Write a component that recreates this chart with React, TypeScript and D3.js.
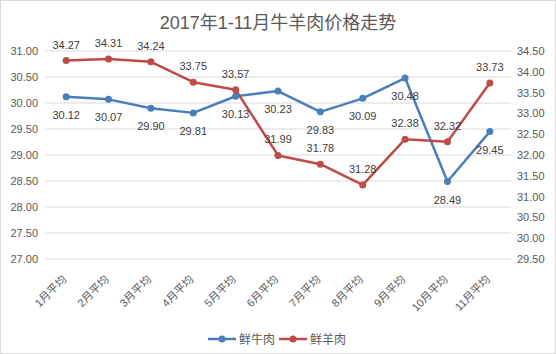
import * as d3 from "d3";

const months = ["1月平均", "2月平均", "3月平均", "4月平均", "5月平均", "6月平均", "7月平均", "8月平均", "9月平均", "10月平均", "11月平均"];
const beef = [30.12, 30.07, 29.9, 29.81, 30.13, 30.23, 29.83, 30.09, 30.48, 28.49, 29.45];
const mutton = [34.27, 34.31, 34.24, 33.75, 33.57, 31.99, 31.78, 31.28, 32.38, 32.32, 33.73];
const leftTicks = [27, 27.5, 28, 28.5, 29, 29.5, 30, 30.5, 31];
const rightTicks = [29.5, 30, 30.5, 31, 31.5, 32, 32.5, 33, 33.5, 34, 34.5];

const W = 556;
const H = 354;
const FONT = "'Liberation Sans', 'Noto Sans CJK SC', sans-serif";
const BLUE = "#4A7EBB";
const RED = "#BE4B48";

export default function App() {
  const margin = { top: 51, right: 45, bottom: 95, left: 45 };

  const x = d3.scaleBand<string>().domain(months).range([margin.left, W - margin.right]);
  const cx = (m: string) => (x(m) ?? 0) + x.bandwidth() / 2;
  const yL = d3.scaleLinear().domain([27, 31]).range([H - margin.bottom, margin.top]);
  const yR = d3.scaleLinear().domain([29.5, 34.5]).range([H - margin.bottom, margin.top]);

  const beefLine = d3.line<number>().x((_, i) => cx(months[i])).y((d) => yL(d));
  const muttonLine = d3.line<number>().x((_, i) => cx(months[i])).y((d) => yR(d));

  return (
    <svg width={W} height={H} style={{ position: "absolute", left: 0, top: 0, fontFamily: FONT }}>
      <rect x={0.5} y={0.5} width={W - 1} height={H - 1} fill="#fff" stroke="#D9D9D9" />
      <text x={W / 2} y={29} textAnchor="middle" fontSize={18} fill="#595959">
        2017年1-11月牛羊肉价格走势
      </text>

      {/* grid + left axis */}
      {leftTicks.map((t) => (
        <g key={"l" + t}>
          <line x1={margin.left} x2={W - margin.right} y1={yL(t)} y2={yL(t)} stroke="#D9D9D9" />
          <text x={38} y={yL(t) + 4} textAnchor="end" fontSize={11} fill="#595959">
            {t.toFixed(2)}
          </text>
        </g>
      ))}
      {rightTicks.map((t) => (
        <text key={"r" + t} x={517} y={yR(t) + 4} fontSize={11} fill="#595959">
          {t.toFixed(2)}
        </text>
      ))}

      {/* x labels */}
      {months.map((m) => (
        <text
          key={m}
          transform={`translate(${cx(m) + 1},${H - margin.bottom + 21}) rotate(-45)`}
          textAnchor="end"
          fontSize={11}
          fill="#595959"
        >
          {m}
        </text>
      ))}

      {/* series */}
      <path d={beefLine(beef) ?? ""} fill="none" stroke={BLUE} strokeWidth={2.5} strokeLinejoin="round" />
      <path d={muttonLine(mutton) ?? ""} fill="none" stroke={RED} strokeWidth={2.5} strokeLinejoin="round" />
      {beef.map((v, i) => (
        <g key={"b" + i}>
          <circle cx={cx(months[i])} cy={yL(v)} r={3.5} fill={BLUE} />
          <text x={cx(months[i])} y={yL(v) + 22} textAnchor="middle" fontSize={11} fill="#404040">
            {v.toFixed(2)}
          </text>
        </g>
      ))}
      {mutton.map((v, i) => (
        <g key={"m" + i}>
          <circle cx={cx(months[i])} cy={yR(v)} r={3.5} fill={RED} />
          <text x={cx(months[i])} y={yR(v) - 12} textAnchor="middle" fontSize={11} fill="#404040">
            {v.toFixed(2)}
          </text>
        </g>
      ))}

      {/* legend */}
      <g fontSize={12} fill="#595959">
        <line x1={208} x2={236} y1={339} y2={339} stroke={BLUE} strokeWidth={2.5} />
        <circle cx={222} cy={339} r={3.5} fill={BLUE} />
        <text x={239} y={343.5}>鲜牛肉</text>
        <line x1={279} x2={307} y1={339} y2={339} stroke={RED} strokeWidth={2.5} />
        <circle cx={293} cy={339} r={3.5} fill={RED} />
        <text x={310} y={343.5}>鲜羊肉</text>
      </g>
    </svg>
  );
}
